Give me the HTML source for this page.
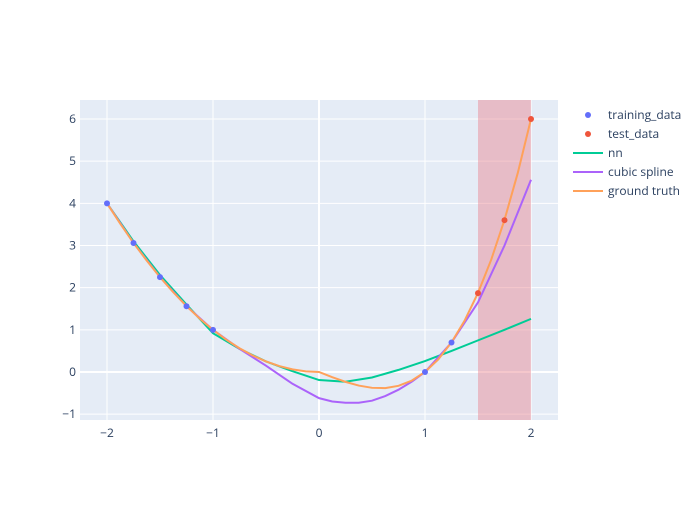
<!DOCTYPE html>
<html><head><meta charset="utf-8"><style>
body{margin:0;background:#fff;font-family:"Liberation Sans",sans-serif;}
svg text{font-family:"Open Sans","Liberation Sans",sans-serif;fill:#2a3f5f;font-size:12px;}
</style></head><body>
<svg id="chart" width="700" height="500">
<rect x="80" y="100" width="478" height="320" fill="#e5ecf6"/>
<g id="grid"></g><g id="shade"></g><g id="lines"></g><g id="pts"></g><g id="axes"></g><g id="legend"></g>
</svg>
<script>
const xTicks=[-2,-1,0,1,2];
const yTicks=[-1,0,1,2,3,4,5,6];
const trainX=[-2,-1.75,-1.5,-1.25,-1,1,1.25];
const trainY=[4,3.06,2.25,1.56,1,0,0.7];
const testX=[1.5,1.75,2];
const testY=[1.87,3.6,6];
const gtX=[-2,-1.875,-1.75,-1.625,-1.5,-1.375,-1.25,-1.125,-1,-0.875,-0.75,-0.625,-0.5,-0.375,-0.25,-0.125,0,0.125,0.25,0.375,0.5,0.625,0.75,0.875,1,1.125,1.25,1.375,1.5,1.625,1.75,1.875,2];
const gtY=[4,3.516,3.063,2.641,2.25,1.891,1.563,1.266,1,0.766,0.563,0.391,0.25,0.141,0.063,0.016,0,-0.123,-0.234,-0.322,-0.375,-0.381,-0.328,-0.205,0,0.299,0.703,1.225,1.875,2.666,3.609,4.717,6];
const nnX=[-2,-1.75,-1.5,-1.25,-1,-0.75,-0.5,-0.25,0,0.25,0.5,0.75,1,1.25,1.5,1.75,2];
const nnY=[4,3.1,2.3,1.6,0.92,0.55,0.25,0.02,-0.19,-0.23,-0.13,0.05,0.26,0.5,0.75,1.0,1.26];
const spX=[-2,-1.75,-1.5,-1.25,-1,-0.75,-0.5,-0.25,0,0.125,0.25,0.375,0.5,0.625,0.75,0.875,1,1.25,1.5,1.75,2];
const spY=[4,3.06,2.25,1.56,1,0.55,0.15,-0.28,-0.62,-0.7,-0.73,-0.73,-0.68,-0.57,-0.42,-0.23,0,0.7,1.65,3.0,4.56];
const shadeRange=[1.5,2];
const X=v=>319+v*106, Y=v=>372-v*42.17;
const NS="http://www.w3.org/2000/svg";
function mk(tag,attrs,parent){const e=document.createElementNS(NS,tag);for(const k in attrs)e.setAttribute(k,attrs[k]);document.getElementById(parent).appendChild(e);return e;}
xTicks.forEach(t=>{
 const l=mk('line',{x1:X(t),x2:X(t),y1:100,y2:420,stroke:'#fff','stroke-width':t===0?2:1},'grid');
 
 
 const tx=mk('text',{x:X(t),y:437,'text-anchor':'middle'},'axes');tx.textContent=t<0?'\u2212'+(-t):t;
 
 
});
yTicks.forEach(t=>{
 const l=mk('line',{x1:80,x2:558,y1:Y(t),y2:Y(t),stroke:'#fff','stroke-width':t===0?2:1},'grid');
 
 
 const tx=mk('text',{x:76,y:Y(t)+4,'text-anchor':'end'},'axes');tx.textContent=t<0?'\u2212'+(-t):t;
 
 
});
const sh=mk('rect',{x:X(shadeRange[0]),y:100,width:X(shadeRange[1])-X(shadeRange[0]),height:320,fill:'#e8838f','fill-opacity':0.45},'shade');


function line(xs,ys,color,name){const p=mk('polyline',{points:xs.map((x,i)=>X(x)+','+Y(ys[i])).join(' '),fill:'none',stroke:color,'stroke-width':2},'lines');
 
 }
line(nnX,nnY,'#00cc96','nn-line');
line(spX,spY,'#ab63fa','cubic-spline-line');
line(gtX,gtY,'#ffa15a','ground-truth-line');
trainX.forEach((x,i)=>{const c=mk('circle',{cx:X(x),cy:Y(trainY[i]),r:3,fill:'#636efa'},'pts');
 
 });
testX.forEach((x,i)=>{const c=mk('circle',{cx:X(x),cy:Y(testY[i]),r:3,fill:'#ef553b'},'pts');
 
 });
const leg=[['training_data','#636efa','m'],['test_data','#ef553b','m'],['nn','#00cc96','l'],['cubic spline','#ab63fa','l'],['ground truth','#ffa15a','l']];
leg.forEach((e,i)=>{const y=115+i*19;
 if(e[2]==='m')mk('circle',{cx:588,cy:y,r:3,fill:e[1]},'legend');
 else mk('line',{x1:573,x2:603,y1:y,y2:y,stroke:e[1],'stroke-width':2},'legend');
 const t=mk('text',{x:608,y:y+4},'legend');t.textContent=e[0];
 
 });
</script>
</body></html>
